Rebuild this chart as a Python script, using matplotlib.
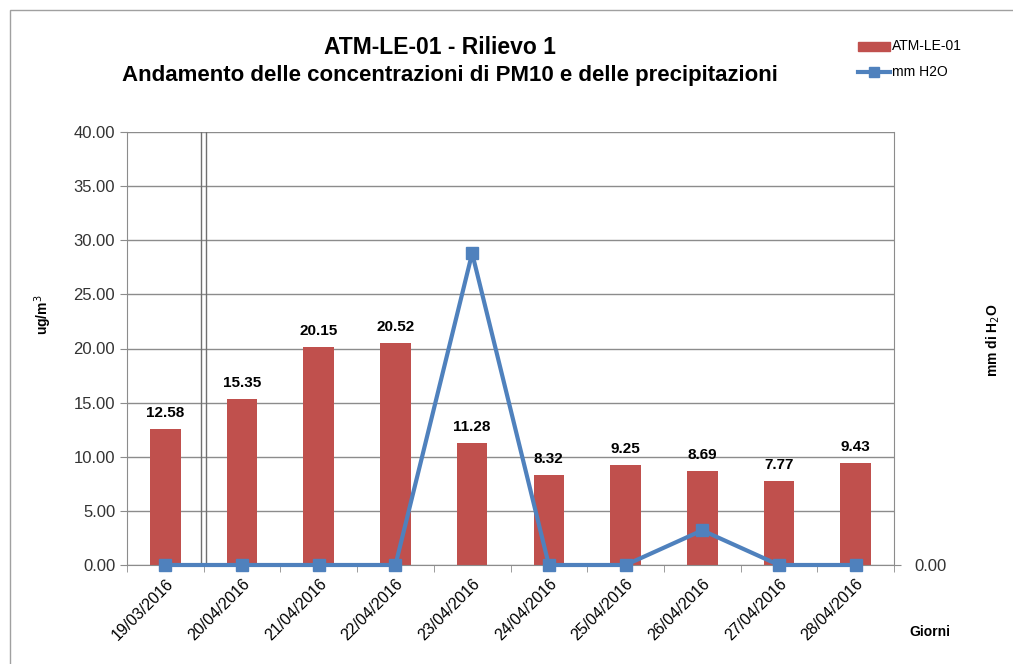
import matplotlib.pyplot as plt
import numpy as np
from matplotlib.patches import Rectangle

plt.rcParams['font.family'] = ['Liberation Sans', 'DejaVu Sans']

giorni = ['19/03/2016', '20/04/2016', '21/04/2016', '22/04/2016', '23/04/2016',
          '24/04/2016', '25/04/2016', '26/04/2016', '27/04/2016', '28/04/2016']
pm10 = [12.58, 15.35, 20.15, 20.52, 11.28, 8.32, 9.25, 8.69, 7.77, 9.43]
mm_h2o = [0.0, 0.0, 0.0, 0.0, 28.8, 0.0, 0.0, 3.2, 0.0, 0.0]

bar_color = '#C0504D'
line_color = '#4F81BD'

fig = plt.figure(figsize=(10.13, 6.64), dpi=100)
# chart frame
fig.patches.append(Rectangle((10 / 1013, -0.01), 1.05, 1 - 10 / 664 + 0.01,
                             transform=fig.transFigure, fill=False,
                             edgecolor='#A0A0A0', linewidth=1))

ax = fig.add_axes([127 / 1013, 1 - 565 / 664, (894 - 127) / 1013, (565 - 132) / 664])
x = np.arange(len(giorni))

ax.set_axisbelow(True)
ax.yaxis.grid(True, color='#8C8C8C', linewidth=1)
bars = ax.bar(x, pm10, width=0.4, color=bar_color, zorder=2)
for xi, v in zip(x, pm10):
    ax.text(xi, v + 0.8, f'{v:.2f}', ha='center', va='bottom',
            fontsize=11, fontweight='bold')

# double line marking the date gap
ax.axvline(0.47, color='#707070', linewidth=1, zorder=1)
ax.axvline(0.53, color='#707070', linewidth=1, zorder=1)

ax.set_xlim(-0.5, len(giorni) - 0.5)
ax.set_ylim(0, 40)
ax.set_yticks(np.arange(0, 40.1, 5))
ax.set_yticklabels([f'{t:.2f}' for t in np.arange(0, 40.1, 5)], fontsize=12, color='#333333')
ax.set_xticks(x)
ax.set_xticklabels(giorni, rotation=45, ha='right', rotation_mode='anchor', fontsize=11.5)
ax.set_xticks(np.arange(-0.5, len(giorni), 1), minor=True)
ax.tick_params(axis='x', which='major', length=0, pad=8)
ax.tick_params(axis='x', which='minor', length=5, color='#8C8C8C')
ax.tick_params(axis='y', length=5, color='#8C8C8C')
for s in ['top', 'right']:
    ax.spines[s].set_visible(False)
ax.spines['left'].set_color('#8C8C8C')
ax.spines['bottom'].set_color('#8C8C8C')

ax2 = ax.twinx()
ax2.plot(x, mm_h2o, color=line_color, linewidth=3, marker='s', markersize=8,
         zorder=3, clip_on=False)
ax2.set_ylim(0, 40)
ax2.set_yticks([0])
ax2.set_yticklabels(['0.00'], fontsize=12, color='#333333')
ax2.tick_params(axis='y', length=5, color='#8C8C8C', pad=10)
for s in ['top', 'left', 'bottom']:
    ax2.spines[s].set_visible(False)
ax2.spines['right'].set_color('#8C8C8C')

fig.text(43 / 1013, 1 - 315 / 664, 'ug/m$^3$', rotation=90,
         ha='center', va='center', fontsize=10, fontweight='bold')
fig.text(993 / 1013, 1 - 340 / 664, 'mm di H$_2$O', rotation=90,
         ha='center', va='center', fontsize=10, fontweight='bold')
fig.text(930 / 1013, 1 - 632 / 664, 'Giorni', ha='center', va='center',
         fontsize=10, fontweight='bold')

fig.text(440 / 1013, 1 - 48 / 664, 'ATM-LE-01 - Rilievo 1', ha='center', va='center',
         fontsize=16.5, fontweight='bold')
fig.text(450 / 1013, 1 - 75 / 664, 'Andamento delle concentrazioni di PM10 e delle precipitazioni',
         ha='center', va='center', fontsize=16, fontweight='bold')

# legend
fig.patches.append(Rectangle((858 / 1013, 1 - 51 / 664), 32 / 1013, 9 / 664,
                             transform=fig.transFigure, color=bar_color))
fig.text(892 / 1013, 1 - 46 / 664, 'ATM-LE-01', ha='left', va='center', fontsize=10)
fig.lines.append(plt.Line2D([858 / 1013, 890 / 1013], [1 - 72 / 664, 1 - 72 / 664],
                            transform=fig.transFigure, color=line_color, linewidth=3))
fig.lines.append(plt.Line2D([874 / 1013], [1 - 72 / 664], transform=fig.transFigure,
                            color=line_color, marker='s', markersize=7))
fig.text(892 / 1013, 1 - 72 / 664, 'mm H2O', ha='left', va='center', fontsize=10)

fig.savefig('out.png', dpi=100)
